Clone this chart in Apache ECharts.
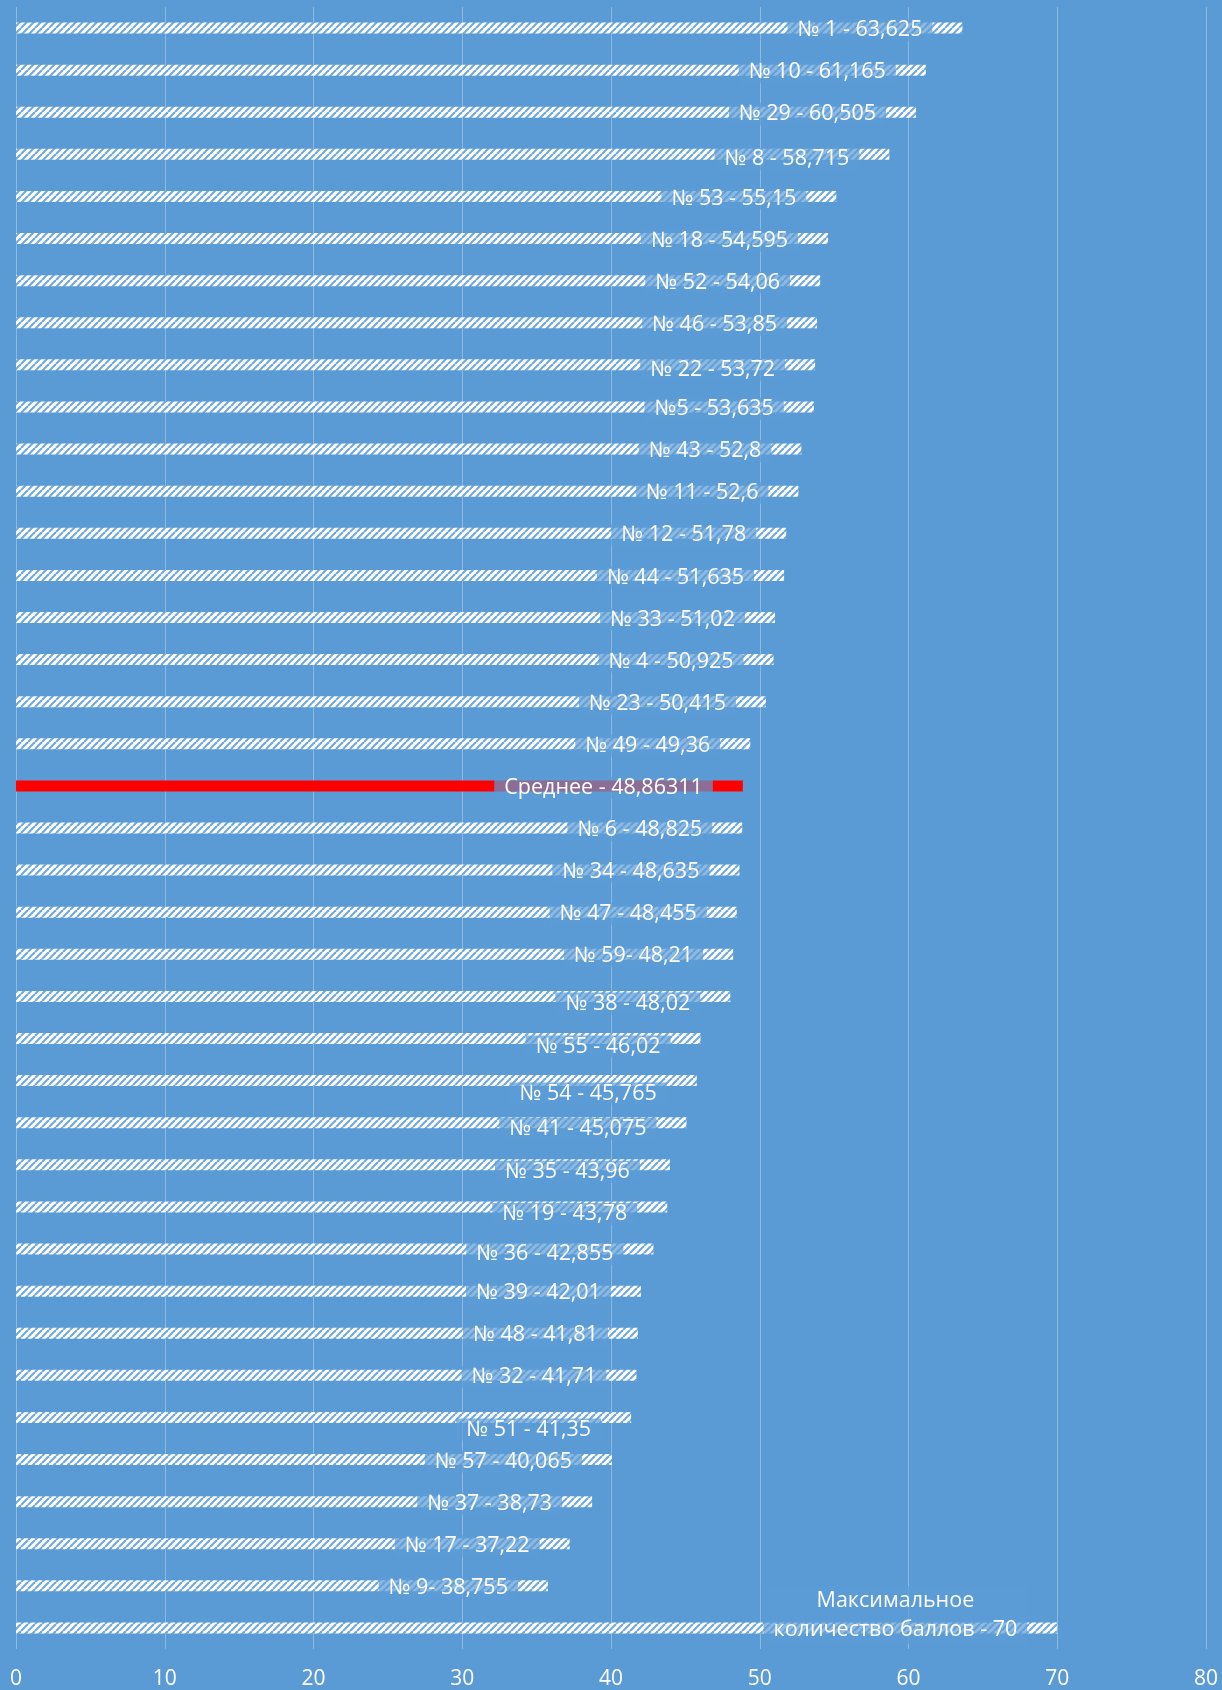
<!DOCTYPE html>
<html>
<head>
<meta charset="utf-8">
<title>Баллы</title>
<script src="https://cdn.jsdelivr.net/npm/echarts@6/dist/echarts.min.js"></script>
<style>
  html, body { margin: 0; padding: 0; background: #5B9BD5; }
  #chart { width: 1222px; height: 1690px; }
</style>
</head>
<body>
<div id="chart"></div>
<script>
// подписи строк (сверху вниз)
const names = [
  '№ 1 - 63,625', '№ 10 - 61,165', '№ 29 - 60,505', '№ 8 - 58,715', '№ 53 - 55,15',
  '№ 18 - 54,595', '№ 52 - 54,06', '№ 46 - 53,85', '№ 22 - 53,72', '№5 - 53,635',
  '№ 43 - 52,8', '№ 11 - 52,6', '№ 12 - 51,78', '№ 44 - 51,635', '№ 33 - 51,02',
  '№ 4 - 50,925', '№ 23 - 50,415', '№ 49 - 49,36', 'Среднее - 48,86311', '№ 6 - 48,825',
  '№ 34 - 48,635', '№ 47 - 48,455', '№ 59- 48,21', '№ 38 - 48,02', '№ 55 - 46,02',
  '№ 54 - 45,765', '№ 41 - 45,075', '№ 35 - 43,96', '№ 19 - 43,78', '№ 36 - 42,855',
  '№ 39 - 42,01', '№ 48 - 41,81', '№ 32 - 41,71', '№ 51 - 41,35', '№ 57 - 40,065',
  '№ 37 - 38,73', '№ 17 - 37,22', '№ 9- 38,755', 'Максимальное\nколичество баллов - 70'
]
// длины столбцов
const scores = [
  63.625, 61.165, 60.505, 58.715, 55.15,
  54.595, 54.06, 53.85, 53.72, 53.635,
  52.8, 52.6, 51.78, 51.635, 51.02,
  50.925, 50.415, 49.36, 48.86311, 48.825,
  48.635, 48.455, 48.21, 48.02, 46.02,
  45.765, 45.075, 43.96, 43.78, 42.855,
  42.01, 41.81, 41.71, 41.35, 40.065,
  38.73, 37.22, 35.76, 70
]
const xTicks = [0, 10, 20, 30, 40, 50, 60, 70, 80]

const avgIndex = 18
const maxIndex = 38
// сдвиг подписей вниз, как в исходной диаграмме
const labelNudge = { 3: 3, 8: 3, 23: 5, 24: 6, 25: 11, 26: 4, 27: 5, 28: 5, 29: 3, 33: 10 }

function makeHatch () {
  const size = 7
  const c = document.createElement('canvas')
  c.width = size
  c.height = size
  const ctx = c.getContext('2d')
  ctx.fillStyle = '#ffffff'
  ctx.fillRect(0, 0, size, size)
  ctx.strokeStyle = 'rgba(91,155,213,0.85)'
  ctx.lineWidth = 2.2
  for (let k = -1; k <= 1; k++) {
    ctx.beginPath()
    ctx.moveTo(k * size, size)
    ctx.lineTo(k * size + size, 0)
    ctx.stroke()
  }
  return c
}

const chart = echarts.init(document.getElementById('chart'))
const hatch = { image: makeHatch(), repeat: 'repeat' }
const labelFont = 21.5

const data = scores.map((v, i) => {
  const item = {
    value: v,
    label: { offset: [0, 2 + (labelNudge[i] || 0)] }
  }
  if (i === avgIndex) item.itemStyle = { color: '#FF0000' }
  if (i === maxIndex) {
    item.label = {
      offset: [0, -13],
      formatter: () => names[i].split('\n').map(s => '{c|' + s + '}').join('\n'),
      rich: { c: { align: 'center', color: '#fff', fontSize: labelFont, fontFamily: 'Open Sans', lineHeight: 29 } }
    }
  }
  return item
})

chart.setOption({
  backgroundColor: '#5B9BD5',
  animation: false,
  grid: { left: 16, right: 16, top: 7, bottom: 40 },
  xAxis: {
    type: 'value',
    min: xTicks[0],
    max: xTicks[xTicks.length - 1],
    interval: 10,
    axisLine: { show: false },
    axisTick: { show: false },
    splitLine: { lineStyle: { color: 'rgba(255,255,255,0.3)', width: 1 } },
    axisLabel: { color: '#fff', fontSize: 21, fontFamily: 'Open Sans', margin: 20 }
  },
  yAxis: {
    type: 'category',
    inverse: true,
    data: names,
    axisLine: { show: false },
    axisTick: { show: false },
    axisLabel: { show: false },
    splitLine: { show: false }
  },
  series: [{
    type: 'bar',
    barWidth: 11,
    data: data,
    itemStyle: { color: hatch },
    label: {
      show: true,
      position: 'insideRight',
      distance: 30,
      formatter: '{b}',
      color: '#fff',
      fontSize: labelFont,
      fontFamily: 'Open Sans',
      backgroundColor: 'rgba(91,155,213,0.7)',
      padding: [0, 10]
    }
  }]
})
</script>
</body>
</html>
